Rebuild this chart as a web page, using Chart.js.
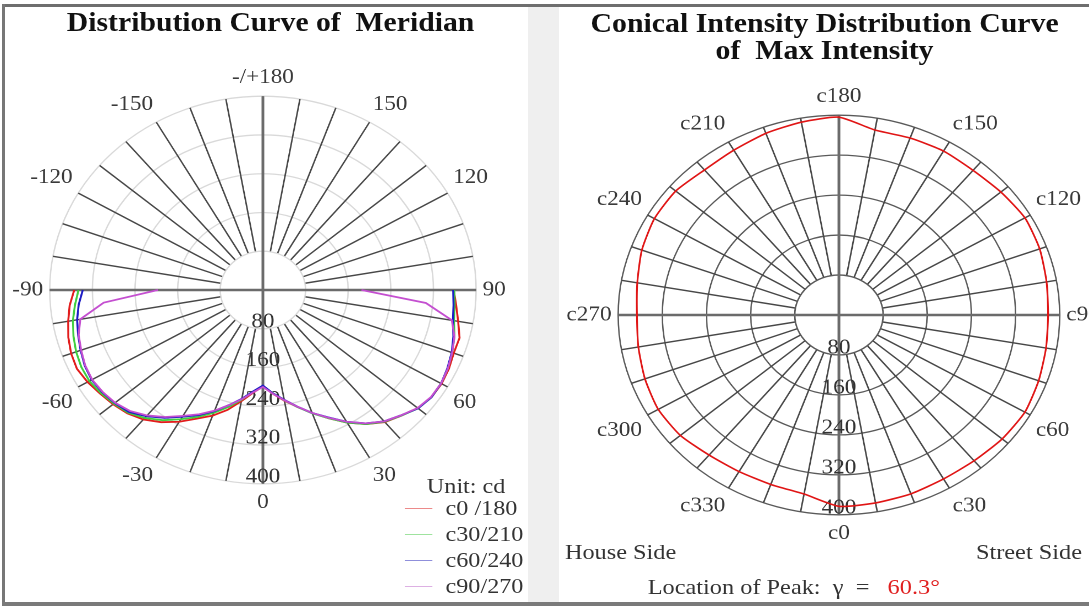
<!DOCTYPE html>
<html>
<head>
<meta charset="utf-8">
<title>Photometric polar curves</title>
<script src="https://cdn.jsdelivr.net/npm/chart.js@4.4.1/dist/chart.umd.min.js"></script>
<style>
  html, body { margin: 0; padding: 0; }
  body {
    width: 1089px; height: 606px; overflow: hidden; position: relative;
    background: #fff; color: #333;
    font-family: "Liberation Serif", "Times New Roman", serif;
  }
  .panel { position: absolute; top: 0; height: 606px; transform-origin: 0 0; }
  #leftPanel { left: 0; width: 495px; transform: scaleX(1.1); }
  #rightPanel { left: 545px; width: 492px; transform: scaleX(1.105); }
  .chartBox { position: absolute; }
  .title {
    position: absolute; width: 500px; text-align: center; white-space: pre;
    font-weight: bold; font-size: 27px; line-height: 27px; color: #111;
  }
  .txt { position: absolute; font-size: 22px; line-height: 24px; white-space: pre; color: #333; }
  .legLine { position: absolute; width: 25px; height: 0; border-top: 1.5px solid; }
  #band { position: absolute; left: 528px; top: 7px; width: 31px; height: 596px; background: #efefef; }
  #frameTop { position: absolute; left: 2px; top: 4px; width: 1087px; height: 3px; background: #6e6e6e; }
  #frameLeft { position: absolute; left: 2px; top: 4px; width: 3px; height: 602px; background: #777; }
  #frameBottom { position: absolute; left: 2px; top: 602px; width: 1087px; height: 4px; background: #7a7a7a; }
</style>
</head>
<body>
<div id="band"></div>

<div id="leftPanel" class="panel">
  <div class="title" style="left:-4px; top:9px;">Distribution Curve of  Meridian</div>
  <div class="chartBox" style="left:-4px; top:65px; width:480px; height:450px;"><canvas id="meridian"></canvas></div>
  <div class="txt" style="left:388px; top:474px;">Unit: cd</div>
  <div id="legend"></div>
</div>

<div id="rightPanel" class="panel">
  <div class="title" style="left:3px; top:10px;">Conical Intensity Distribution Curve
of  Max Intensity</div>
  <div class="chartBox" style="left:6px; top:84px; width:510px; height:462px;"><canvas id="conical"></canvas></div>
  <div class="txt" style="left:18px; top:540px;">House Side</div>
  <div class="txt" style="left:390px; top:540px;">Street Side</div>
  <div class="txt" style="left:93px; top:575px;">Location of Peak:  γ  =   <span style="color:#e02020">60.3°</span></div>
</div>

<div id="frameTop"></div>
<div id="frameLeft"></div>
<div id="frameBottom"></div>

<script>
// valores del diagrama de meridianos (cd), gamma de -90 a 90 cada 5 grados
const gammaAngles = [-90, -85, -80, -75, -70, -65, -60, -55, -50, -45, -40, -35, -30, -25, -20, -15, -10, -5, 0,
  5, 10, 15, 20, 25, 30, 35, 40, 45, 50, 55, 60, 65, 70, 75, 80, 85, 90];
const c0_180 = [354, 364, 371, 378, 383, 385, 380, 373, 367, 360, 349, 333, 314, 293, 276, 256, 233, 213, 199,
  215, 232, 250, 270, 292, 316, 338, 356, 367, 379, 386, 387, 385, 381, 382, 372, 364, 358];
const c30_210 = [346, 354, 362, 368, 373, 376, 376, 371, 365, 358, 345, 328, 308, 289, 270, 250, 230, 211, 198,
  214, 231, 250, 271, 292, 316, 338, 355, 367, 380, 386, 386, 383, 378, 372, 364, 361, 359];
const c60_240 = [338, 347, 354, 359, 364, 369, 371, 368, 363, 356, 340, 322, 302, 285, 266, 246, 228, 210, 197,
  214, 230, 249, 270, 290, 314, 336, 354, 366, 380, 386, 386, 382, 377, 370, 362, 359, 357];
const c90_270 = [197, 300, 348, 358, 363, 368, 370, 367, 362, 353, 338, 320, 300, 283, 265, 246, 229, 212, 200,
  215, 231, 249, 270, 291, 314, 336, 354, 366, 379, 385, 386, 383, 378, 372, 360, 307, 185];

// curva conica de la intensidad maxima (gamma = 60.3), plano C cada 10 grados
const cPlaneAngles = [0, 10, 20, 30, 40, 50, 60, 70, 80, 90, 100, 110, 120, 130, 140, 150, 160, 170,
  180, 190, 200, 210, 220, 230, 240, 250, 260, 270, 280, 290, 300, 310, 320, 330, 340, 350];
const maxIntensity = [383, 382, 381, 379, 381, 386, 389, 385, 381, 379, 382, 387, 389, 383, 378, 379, 377, 376,
  396, 392, 387, 381, 379, 386, 386, 380, 371, 366, 369, 374, 378, 375, 366, 362, 361, 364];

// etiquetas de los ejes
const radialTicks = [80, 160, 240, 320, 400];
const meridianAxisLabels = { 0: '0', '-30': '-30', '-60': '-60', '-90': '-90', '-120': '-120', '-150': '-150',
  '-180': '-/+180', 150: '150', 120: '120', 90: '90', 60: '60', 30: '30' };

const series = [
  { name: 'c0 /180', values: c0_180, color: '#e21c1c', legend: '#ec8a8a' },
  { name: 'c30/210', values: c30_210, color: '#3fcf3f', legend: '#9fe39f' },
  { name: 'c60/240', values: c60_240, color: '#1c1cc4', legend: '#8f8fdb' },
  { name: 'c90/270', values: c90_270, color: '#c44fd0', legend: '#ddb0e3' }
];

const serifFont = { family: '"Liberation Serif", "Times New Roman", serif', size: 21 };

// tapamos el centro, redibujamos la cruz principal y ponemos los valores en el eje inferior
const polarDecor = {
  id: 'polarDecor',
  beforeDatasetsDraw(chart, args, opts) {
    const r = chart.scales.r;
    const ctx = chart.ctx;
    const cx = r.xCenter, cy = r.yCenter;
    const inner = r.getDistanceFromCenterForValue(radialTicks[0]);
    const outer = r.getDistanceFromCenterForValue(r.max);
    ctx.save();
    ctx.beginPath();
    ctx.arc(cx, cy, inner, 0, Math.PI * 2);
    ctx.fillStyle = '#fff';
    ctx.fill();
    ctx.strokeStyle = opts.ringColor;
    ctx.lineWidth = opts.ringWidth;
    ctx.stroke();

    ctx.strokeStyle = '#6b6b6b';
    ctx.lineWidth = 2.5;
    ctx.beginPath();
    ctx.moveTo(cx - outer, cy);
    ctx.lineTo(cx + outer, cy);
    ctx.moveTo(cx, cy - outer);
    ctx.lineTo(cx, cy + outer);
    ctx.stroke();

    ctx.fillStyle = '#333';
    ctx.font = '21px "Liberation Serif", "Times New Roman", serif';
    ctx.textAlign = 'center';
    ctx.textBaseline = 'middle';
    radialTicks.forEach(v => {
      ctx.fillText(String(v), cx, cy + r.getDistanceFromCenterForValue(v) - 7);
    });
    ctx.restore();
  }
};

function radialScale(ringColor, spokeEvery, labelFn) {
  return {
    min: 0,
    max: 400,
    startAngle: 180,
    ticks: { stepSize: 80, display: false },
    grid: { circular: true, color: ringColor, lineWidth: 1.3 },
    angleLines: {
      color: '#474747',
      lineWidth: ctx => (ctx.index % spokeEvery === 0 ? 1.4 : 0)
    },
    pointLabels: { font: serifFont, color: '#3a3a3a', padding: 6, callback: labelFn }
  };
}

// grafica izquierda: 72 direcciones cada 5 grados, sentido horario desde abajo hacia -90
const meridianLabels = [];
for (let k = 0; k < 72; k++) {
  meridianLabels.push(k <= 36 ? -5 * k : 360 - 5 * k);
}

new Chart(document.getElementById('meridian'), {
  type: 'radar',
  data: {
    labels: meridianLabels,
    datasets: series.map((s, i) => ({
      label: s.name,
      data: meridianLabels.map(g => {
        const idx = gammaAngles.indexOf(g);
        return idx >= 0 ? s.values[idx] : null;
      }),
      borderColor: s.color,
      borderWidth: 1.8,
      pointRadius: 0,
      fill: false,
      spanGaps: false,
      order: series.length - i
    }))
  },
  options: {
    responsive: true,
    maintainAspectRatio: false,
    animation: false,
    devicePixelRatio: 2,
    scales: {
      r: radialScale('#d9d9d9', 2, (label, i) => (i % 6 === 0 ? meridianAxisLabels[label] : ''))
    },
    plugins: {
      legend: { display: false },
      tooltip: { enabled: false },
      polarDecor: { ringColor: '#d9d9d9', ringWidth: 1.3 }
    }
  },
  plugins: [polarDecor]
});

// grafica derecha: plano C, c0 abajo, c90 a la derecha
const conicalLabels = cPlaneAngles.map((c, k) => (360 - 10 * k) % 360);

new Chart(document.getElementById('conical'), {
  type: 'radar',
  data: {
    labels: conicalLabels,
    datasets: [{
      label: 'Max Intensity',
      data: conicalLabels.map(c => maxIntensity[cPlaneAngles.indexOf(c)]),
      borderColor: '#e01515',
      borderWidth: 1.6,
      pointRadius: 0,
      fill: false,
      tension: 0.2
    }]
  },
  options: {
    responsive: true,
    maintainAspectRatio: false,
    animation: false,
    devicePixelRatio: 2,
    scales: {
      r: radialScale('#5a5a5a', 1, (label, i) => (i % 3 === 0 ? 'c' + label : ''))
    },
    plugins: {
      legend: { display: false },
      tooltip: { enabled: false },
      polarDecor: { ringColor: '#5a5a5a', ringWidth: 1.3 }
    }
  },
  plugins: [polarDecor]
});

// leyenda de la grafica izquierda
const legendBox = document.getElementById('legend');
series.forEach((s, i) => {
  const y = 508 + i * 26;
  legendBox.innerHTML += `<div class="legLine" style="left:368px; top:${y}px; border-color:${s.legend}"></div>` +
    `<div class="txt" style="left:405px; top:${y - 12}px;">${s.name}</div>`;
});
</script>
</body>
</html>
